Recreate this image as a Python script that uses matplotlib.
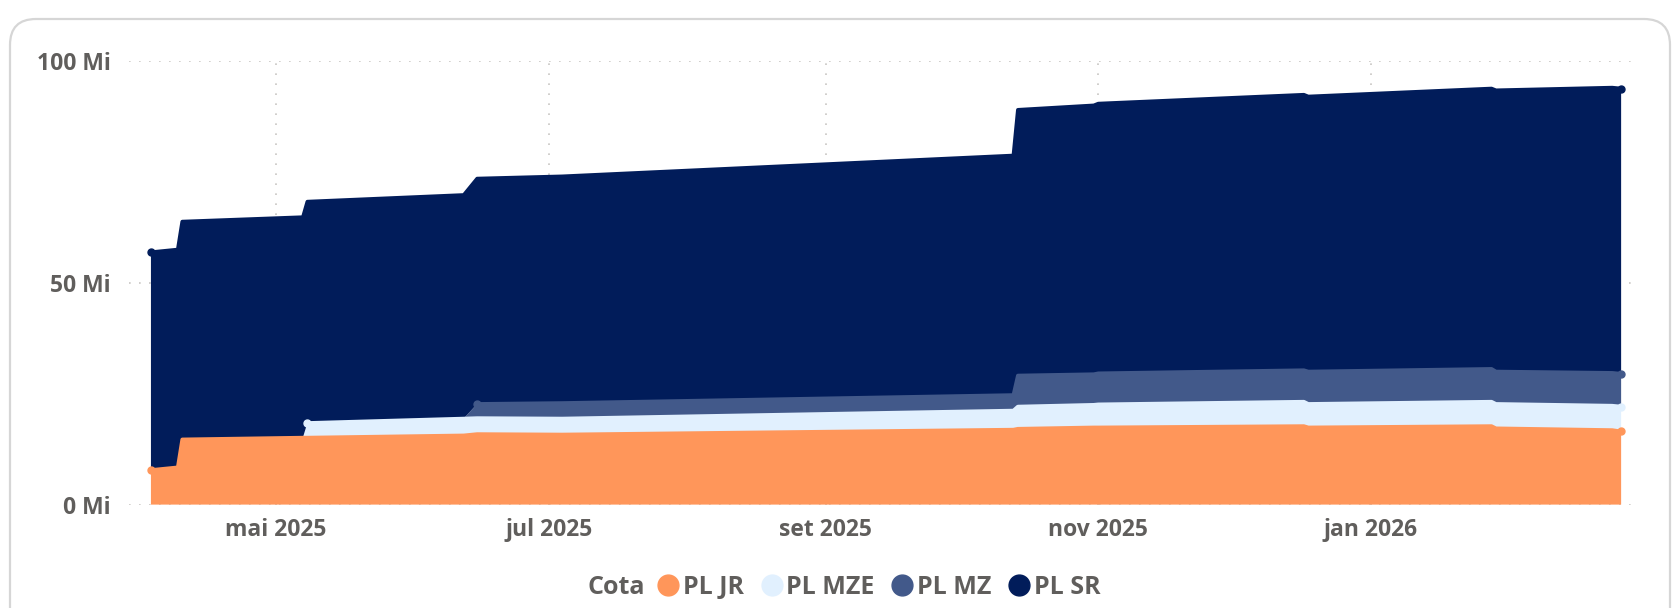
import numpy as np
import pandas as pd
import matplotlib.pyplot as plt
from matplotlib.patches import FancyBboxPatch
from matplotlib.lines import Line2D
from matplotlib.transforms import IdentityTransform

plt.rcParams['font.family'] = ['Open Sans', 'DejaVu Sans']
plt.rcParams['font.weight'] = 'bold'

# values in millions (Mi)
dates = pd.to_datetime([
    "2025-04-03", "2025-04-09", "2025-04-10", "2025-05-07", "2025-05-08",
    "2025-06-12", "2025-06-15", "2025-07-04", "2025-10-13", "2025-10-14",
    "2025-10-31", "2025-11-01", "2025-12-17", "2025-12-18", "2026-01-28",
    "2026-01-29", "2026-02-24", "2026-02-26",
])
pl_jr = [7.8, 8.4, 14.7, 15.1, 15.1, 15.6, 15.9, 15.8, 16.9, 17.1,
         17.4, 17.4, 17.7, 17.4, 17.7, 17.2, 16.8, 16.5]
pl_mze = [0, 0, 0, 0, 3.3, 3.8, 3.6, 3.6, 4.3, 5.0,
          5.1, 5.2, 5.5, 5.3, 5.5, 5.5, 5.5, 5.6]
pl_mz = [0, 0, 0, 0, 0, 0, 3.2, 3.5, 3.5, 7.0,
         6.9, 7.0, 7.1, 7.3, 7.4, 7.3, 7.4, 7.4]
pl_sr = [49.1, 49.1, 49.1, 49.7, 49.9, 50.4, 50.8, 51.1, 54.0, 59.9,
         60.6, 60.8, 62.1, 62.0, 63.2, 63.4, 64.3, 64.3]

series_names = ["PL JR", "PL MZE", "PL MZ", "PL SR"]
colors = ["#FF965A", "#E1F0FE", "#42598A", "#011C5A"]

tick_dates = pd.to_datetime(["2025-05-01", "2025-07-01", "2025-09-01", "2025-11-01", "2026-01-01"])
tick_labels = ["mai 2025", "jul 2025", "set 2025", "nov 2025", "jan 2026"]
y_ticks = [0, 50, 100]
y_labels = ["0 Mi", "50 Mi", "100 Mi"]

txt = "#605E5C"

fig = plt.figure(figsize=(16.8, 6.08), dpi=100)
fig.patch.set_facecolor("white")

# card behind the chart
card = FancyBboxPatch((10, -80), 1660, 80 + 589, boxstyle="round,pad=0,rounding_size=26",
                      transform=IdentityTransform(), facecolor="white",
                      edgecolor="#D6D6D6", linewidth=1.6, zorder=-5)
fig.patches.append(card)

ax = fig.add_axes([128.6 / 1680, 1 - 504.6 / 608, (1639 - 128.6) / 1680, (504.6 - 61) / 608])
ax.set_zorder(2)
ax.set_facecolor("none")

layers = [np.array(pl_jr), np.array(pl_mze), np.array(pl_mz), np.array(pl_sr)]
ax.stackplot(dates, *layers, colors=colors, linewidth=0, zorder=2)

tops = np.cumsum(layers, axis=0)
for i, (vals, top) in enumerate(zip(layers, tops)):
    line = np.where(vals > 0, top, np.nan)
    ax.plot(dates, line, color=colors[i], lw=2.6, solid_capstyle="round",
            solid_joinstyle="round", zorder=3, clip_on=False)
    ok = np.where(vals > 0)[0]
    ax.plot([dates[ok[0]], dates[ok[-1]]], [top[ok[0]], top[ok[-1]]], "o",
            color=colors[i], ms=5, zorder=4, clip_on=False)

ax.set_xlim(pd.Timestamp("2025-03-29"), pd.Timestamp("2026-03-02"))
ax.set_ylim(0, 100)
ax.set_xticks(tick_dates)
ax.set_xticklabels(tick_labels)
ax.set_yticks(y_ticks)
ax.set_yticklabels(y_labels)
ax.tick_params(length=0, labelsize=16.5, labelcolor=txt)
ax.tick_params(axis="y", pad=13)
ax.tick_params(axis="x", pad=10)
ax.grid(True, color="#C8C6C4", linestyle=(0, (1, 5)), linewidth=1.2, zorder=1)
ax.set_axisbelow(True)
for s in ax.spines.values():
    s.set_visible(False)

fig.text(616 / 1680, 1 - 587 / 608, "Cota", ha="center", va="center",
         fontsize=18, color=txt, fontweight="bold")
handles = [Line2D([], [], marker="o", linestyle="none", ms=15, color=c) for c in colors]
fig.legend(handles, series_names, loc="center left", bbox_to_anchor=(658 / 1680, 1 - 587 / 608),
           ncol=4, frameon=False, fontsize=18, labelcolor=txt, handlelength=0.8,
           handletextpad=0.2, columnspacing=0.7, borderpad=0, borderaxespad=0)

fig.savefig("out.png", dpi=100, facecolor=fig.get_facecolor())
